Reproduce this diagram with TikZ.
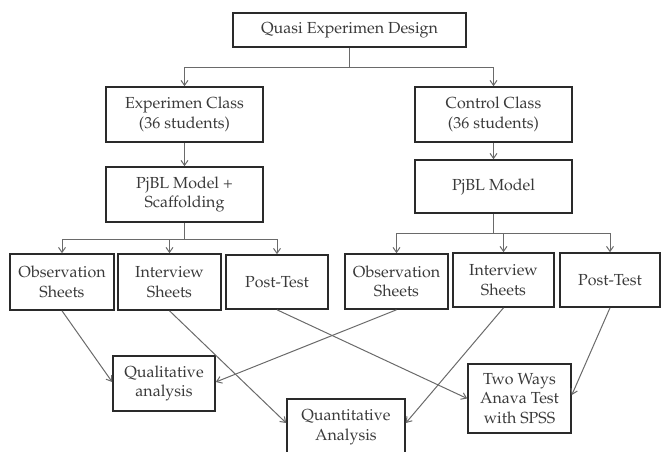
\documentclass[tikz,border=0pt]{standalone}
\usepackage[T1]{fontenc}
\usepackage{mathpazo}
\usetikzlibrary{arrows.meta,calc}
\definecolor{boxline}{HTML}{2A2A2A}
\definecolor{conn}{HTML}{6A6A6A}
\definecolor{txt}{HTML}{3A3A3A}
\tikzset{
  box/.style={draw=boxline, line width=1.6pt, fill=white, inner sep=0pt,
    align=center, text=txt, font=\fontsize{16}{19.5}\selectfont},
  arr/.style={draw=conn, line width=1pt, -{Straight Barb[length=5pt,width=7pt,line width=1pt]}},
}
\begin{document}
\begin{tikzpicture}[x=1pt,y=-1pt]
\useasboundingbox (0,0) rectangle (661,451);
\node[box, minimum width=233, minimum height=34] (Q) at (349.5,30) {Quasi Experimen Design};
\node[box, minimum width=157, minimum height=55] (E) at (184.5,114.5) {Experimen Class\\(36 students)};
\node[box, minimum width=157, minimum height=55] (C) at (493.5,114.5) {Control Class\\(36 students)};
\node[box, minimum width=157, minimum height=55] (PS) at (184.5,194.5) {PjBL Model +\\Scaffolding};
\node[box, minimum width=157, minimum height=53] (P) at (493.5,186.5) {PjBL Model};
\node[box, minimum width=104, minimum height=56] (OL) at (62,282) {Observation\\Sheets};
\node[box, minimum width=103, minimum height=56] (IL) at (169.5,282) {Interview\\Sheets};
\node[box, minimum width=102, minimum height=54] (PL) at (277,282) {Post-Test};
\node[box, minimum width=103, minimum height=55] (OR) at (396.5,281.5) {Observation\\Sheets};
\node[box, minimum width=101, minimum height=54] (IR) at (503.5,280) {Interview\\Sheets};
\node[box, minimum width=100, minimum height=54] (PR) at (610,280) {Post-Test};
\node[box, minimum width=102, minimum height=55] (QL) at (164,383.5) {Qualitative\\analysis};
\node[box, minimum width=118, minimum height=56] (QN) at (346,427) {Quantitative\\Analysis};
\node[box, minimum width=103, minimum height=69] (TW) at (519.5,398.5) {Two Ways\\Anava Test\\with SPSS};

\draw[arr] (Q.south) -- ++(0,20) -| (E.north);
\draw[arr] (Q.south) -- ++(0,20) -| (C.north);
\draw[arr] (E.south) -- (PS.north);
\draw[arr] (C.south) -- (P.north);
\draw[arr] (PS.south) -- ++(0,17) -| (OL.north);
\draw[arr] (PS.south) -- ++(0,17) -| (IL.north);
\draw[arr] (PS.south) -- ++(0,17) -| (PL.north);
\draw[arr] (P.south) -- ++(0,20) -| (OR.north);
\draw[arr] (P.south) -- ++(0,20) -| (IR.north);
\draw[arr] (P.south) -- ++(0,20) -| (PR.north);

\draw[arr] (OL.south) -- ([yshift=1.5pt]QL.west);
\draw[arr] (OR.south) -- ([yshift=1.5pt]QL.east);
\draw[arr] (IL.south) -- ([yshift=4pt]QN.west);
\draw[arr] (IR.south) -- ([yshift=4pt]QN.east);
\draw[arr] (PL.south) -- (TW.west);
\draw[arr] (PR.south) -- ([yshift=3.5pt]TW.east);
\end{tikzpicture}
\end{document}
